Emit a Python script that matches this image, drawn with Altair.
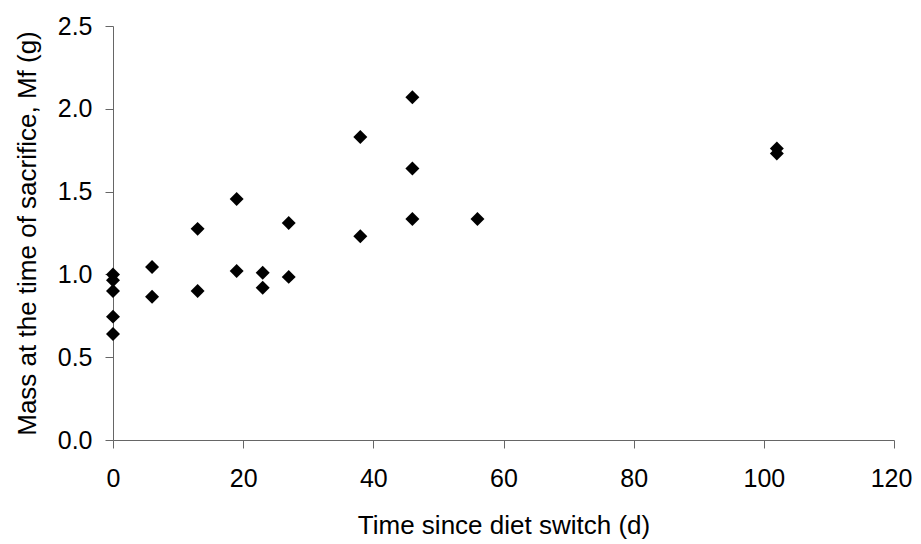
import altair as alt
import pandas as pd

days = [0, 0, 0, 0, 0, 6, 6, 13, 13, 19, 19, 23, 23, 27, 27, 38, 38, 46, 46, 46, 56, 102, 102]
mass = [1.00, 0.965, 0.90, 0.745, 0.64, 1.045, 0.865, 1.275, 0.90, 1.455, 1.02, 1.01, 0.92,
        1.31, 0.985, 1.83, 1.23, 2.07, 1.64, 1.335, 1.335, 1.76, 1.73]
x_ticks = [0, 20, 40, 60, 80, 100, 120]
y_ticks = [0, 0.5, 1.0, 1.5, 2.0, 2.5]

df = pd.DataFrame({"days": days, "mass": mass})

FONT = "Liberation Sans"

chart = alt.Chart(df).mark_point(
    shape="diamond", filled=True, color="black", opacity=1, size=195
).encode(
    x=alt.X("days:Q", scale=alt.Scale(domain=[0, 120], nice=False, zero=True),
            axis=alt.Axis(title="Time since diet switch (d)", values=x_ticks,
                          grid=False, domainColor="#666666", tickColor="#666666", tickSize=8,
                          labelFlush=False, labelOverlap=False,
                          labelOffset={"condition": {"test": "datum.value == 120", "value": -3}, "value": 0},
                          labelPadding=18, labelFontSize=25, titleFontSize=26, labelColor="black",
                          titleColor="black", titleFontWeight="normal", titlePadding=21,
                          labelFont=FONT, titleFont=FONT)),
    y=alt.Y("mass:Q", scale=alt.Scale(domain=[0, 2.5], nice=False),
            axis=alt.Axis(title="Mass at the time of sacrifice, Mf (g)", values=y_ticks,
                          format=".1f", grid=False, domainColor="#666666", tickColor="#666666", tickSize=8,
                          labelFlush=False, labelOverlap=False,
                          labelPadding=13, labelFontSize=25, titleFontSize=26, labelColor="black",
                          titleColor="black", titleFontWeight="normal", titlePadding=17,
                          labelFont=FONT, titleFont=FONT)),
).properties(
    width=781, height=414,
    autosize=alt.AutoSizeParams(type="none"),
    padding={"left": 105, "top": 18, "right": 19, "bottom": 100},
).configure_view(stroke=None)

chart.save("out.html", embed_options={"renderer": "svg", "actions": False})
